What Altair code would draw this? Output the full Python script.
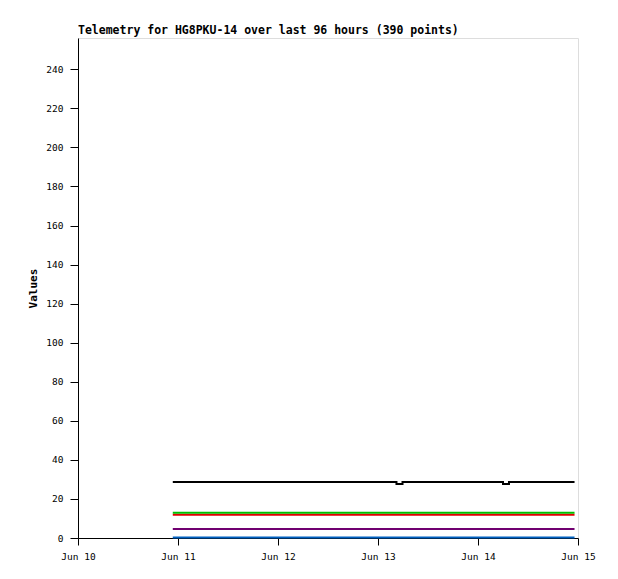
import altair as alt
import pandas as pd

# Series: times (local) and values
t_const = ["2024-06-10T22:45:00", "2024-06-14T23:10:00"]
black_t = ["2024-06-10T22:45:00", "2024-06-13T04:26:00", "2024-06-13T05:53:00",
           "2024-06-14T06:00:00", "2024-06-14T07:26:00", "2024-06-14T23:10:00"]
black_v = [28.7, 27.6, 28.7, 27.6, 28.7, 28.7]
green_v = [12.9, 12.9]
red_v = [11.9, 11.9]
purple_v = [4.6, 4.6]
blue_v = [0.2, 0.2]

series = [
    ("blue", t_const, blue_v, "#0060c0"),
    ("purple", t_const, purple_v, "#700070"),
    ("red", t_const, red_v, "#e00000"),
    ("green", t_const, green_v, "#00c000"),
    ("black", black_t, black_v, "#000000"),
]

tick_days = [10, 11, 12, 13, 14, 15]
y_ticks = list(range(0, 241, 20))

FONT = "DejaVu Sans Mono"

x_scale = alt.Scale(domain=[alt.DateTime(year=2024, month=6, date=10),
                            alt.DateTime(year=2024, month=6, date=15)])
y_scale = alt.Scale(domain=[0, 256], nice=False)

x_axis = alt.Axis(values=[alt.DateTime(year=2024, month=6, date=d) for d in tick_days],
                  format="%b %d", title=None, grid=False, labelFont=FONT,
                  labelFontSize=9.5, labelColor="#000", tickColor="#000",
                  domainColor="#000", tickSize=7, labelPadding=6, labelFlush=False,
                  zindex=0)
y_axis = alt.Axis(values=y_ticks, title="Values", grid=False, labelFont=FONT,
                  labelFontSize=9.5, labelColor="#000", tickColor="#000",
                  domainColor="#000", tickSize=8, labelPadding=7,
                  titleFont=FONT, titleFontSize=11, titleFontWeight="bold",
                  titleColor="#000", titlePadding=7, zindex=0)

layers = []
for name, ts, vs, col in series:
    df = pd.DataFrame({"t": ts, "v": vs})
    interp = "step-after" if name == "black" else "linear"
    layers.append(
        alt.Chart(df).mark_line(color=col, strokeWidth=2, interpolate=interp)
        .encode(x=alt.X("t:T", scale=x_scale, axis=x_axis),
                y=alt.Y("v:Q", scale=y_scale, axis=y_axis))
    )

chart = alt.layer(*layers).properties(
    width=500, height=500,
    title=alt.TitleParams("Telemetry for HG8PKU-14 over last 96 hours (390 points)",
                          anchor="start", frame="group", font=FONT, fontSize=11.5,
                          fontWeight="bold", color="#000", offset=2),
    autosize=alt.AutoSizeParams(type="none"),
    padding={"left": 70, "top": 30, "right": 32, "bottom": 33},
).configure_view(stroke="#555555", strokeWidth=1).configure(background="white")

chart.save("out.html", embed_options={"renderer": "svg", "actions": False})
